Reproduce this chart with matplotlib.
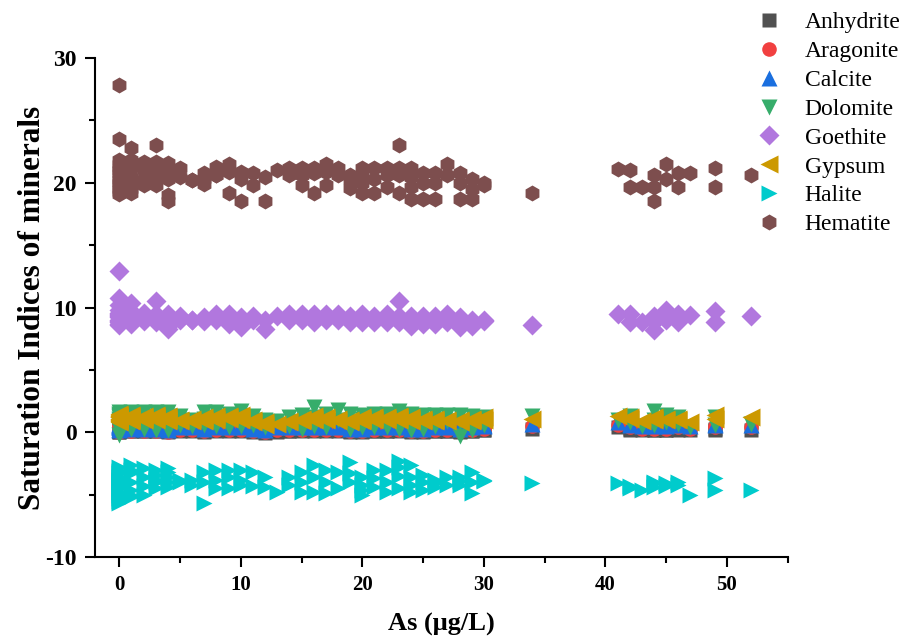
import matplotlib
matplotlib.use("Agg")
import matplotlib.pyplot as plt
from matplotlib.ticker import MultipleLocator

plt.rcParams["font.family"] = ["Liberation Serif", "DejaVu Serif"]
plt.rcParams["axes.unicode_minus"] = False

# As concentration of each sample (ug/L), one entry per sample
As = [0, 0, 0, 0, 0, 0, 0, 0, 0, 0, 0, 0, 0, 0,
      1, 1, 1, 1, 1, 1, 1,
      2, 2, 2, 2,
      3, 3, 3, 3, 3,
      4, 4, 4, 4, 4,
      5, 5, 6, 6, 7, 7, 7, 8, 8, 8, 9, 9, 9, 10, 10, 10,
      11, 11, 12, 12, 13, 14, 14, 15, 15, 15, 16, 16, 16, 17, 17, 17,
      18, 18, 19, 19, 19, 20, 20, 20, 20, 21, 21, 21, 22, 22, 22,
      23, 23, 23, 23, 24, 24, 24, 24, 25, 25, 25, 26, 26, 26,
      27, 27, 28, 28, 28, 29, 29, 29, 30, 30,
      34, 41, 42, 42, 43, 44, 44, 44, 45, 45, 46, 46, 47, 49, 49, 52]

hematite = [27.8, 23.5, 21.8, 21.5, 21.2, 21.0, 20.8, 20.5, 20.2, 20.0, 19.8, 19.5, 19.3, 19.1,
            22.8, 21.8, 21.2, 20.5, 20.0, 19.5, 19.2,
            21.7, 21.0, 20.3, 19.8,
            23.0, 21.7, 21.0, 20.3, 19.8,
            21.6, 21.0, 20.3, 19.0, 18.5,
            21.2, 20.5, 20.2, 20.2, 20.8, 20.3, 19.9, 21.3, 20.6, 20.6, 21.5, 20.9, 19.2, 20.9, 20.3, 18.5,
            20.8, 19.8, 20.5, 18.5, 21.0, 21.2, 20.6, 21.2, 20.6, 19.8, 21.2, 20.8, 19.2, 21.5, 20.9, 19.8,
            21.2, 20.6, 20.6, 20.2, 19.6, 21.2, 20.6, 20.0, 19.2, 21.2, 20.3, 19.2, 21.2, 20.6, 19.7,
            23.0, 21.2, 20.6, 19.2, 21.2, 20.5, 19.7, 18.7, 20.8, 20.0, 18.7, 20.8, 20.0, 18.7,
            21.5, 20.6, 20.8, 20.0, 18.7, 20.3, 19.5, 18.7, 20.0, 19.8,
            19.2, 21.1, 21.0, 19.7, 19.7, 20.6, 19.7, 18.5, 21.5, 20.3, 20.8, 19.7, 20.8, 21.2, 19.7, 20.6]

goethite = [12.9, 10.8, 10.2, 9.8, 9.6, 9.5, 9.3, 9.2, 9.0, 8.9, 8.8, 8.7, 8.6, 9.4,
            10.4, 9.7, 9.5, 9.2, 9.0, 8.8, 8.7,
            9.6, 9.5, 9.0, 8.9,
            10.5, 9.5, 9.3, 8.8, 9.0,
            9.5, 9.2, 8.8, 8.5, 8.3,
            9.3, 9.0, 9.0, 9.0, 9.2, 8.9, 9.0, 9.5, 9.0, 9.2, 9.5, 8.7, 9.1, 9.2, 8.4, 8.8,
            9.3, 9.0, 9.0, 8.3, 9.3, 9.5, 9.0, 9.5, 9.0, 9.2, 9.5, 8.8, 9.2, 9.5, 9.0, 9.2,
            9.5, 9.0, 9.3, 8.8, 9.0, 9.5, 8.8, 9.0, 9.2, 9.3, 8.8, 9.0, 9.5, 8.8, 9.2,
            10.5, 9.3, 8.8, 9.0, 9.3, 8.5, 8.9, 9.0, 9.3, 8.7, 9.0, 9.3, 8.7, 9.0,
            9.5, 8.8, 9.2, 8.4, 8.8, 9.0, 8.5, 8.7, 9.0, 8.9,
            8.6, 9.5, 9.5, 8.8, 8.8, 9.3, 8.2, 8.8, 9.8, 9.0, 9.5, 8.8, 9.4, 9.7, 8.8, 9.3]

halite = [-2.8, -3.1, -3.3, -3.6, -3.8, -4.0, -4.3, -4.5, -4.8, -5.0, -5.3, -5.5, -5.7, -4.1,
          -2.6, -3.0, -3.3, -4.0, -4.6, -5.0, -5.2,
          -2.9, -3.6, -4.3, -5.0,
          -3.0, -3.8, -4.5, -4.0, -3.4,
          -2.9, -3.6, -4.4, -4.0, -3.2,
          -4.0, -3.8, -3.8, -4.2, -3.2, -4.0, -5.7, -3.0, -3.8, -4.5, -3.0, -3.6, -4.5, -3.0, -3.8, -4.2,
          -3.2, -4.3, -3.6, -4.4, -4.8, -3.6, -4.2, -3.2, -4.8, -4.0, -2.6, -3.6, -4.8, -3.0, -4.0, -4.9,
          -3.2, -4.5, -2.4, -3.3, -4.0, -3.6, -5.0, -4.2, -4.6, -3.0, -4.4, -3.7, -3.0, -4.0, -4.8,
          -2.3, -3.5, -4.5, -2.8, -2.6, -3.6, -4.8, -4.2, -3.4, -4.6, -4.0, -3.8, -4.4, -4.1,
          -3.6, -4.2, -3.6, -4.2, -3.9, -3.2, -4.0, -4.9, -3.9, -3.8,
          -4.1, -4.1, -4.5, -4.3, -4.6, -4.1, -4.4, -4.0, -4.1, -4.3, -4.0, -4.2, -5.0, -3.7, -4.6, -4.6]

gypsum = [1.5, 1.3, 1.2, 1.0, 0.9, 1.4, 1.1, 0.8, 1.2, 1.3, 1.0, 1.1, 0.9, 1.2,
          1.4, 1.2, 1.0, 1.1, 0.9, 1.3, 1.2,
          1.3, 1.1, 1.0, 1.2,
          1.4, 1.2, 1.0, 1.1, 1.3,
          1.3, 1.1, 1.0, 0.9, 1.2,
          1.0, 0.9, 1.1, 0.9, 1.2, 1.0, 0.9, 1.3, 1.1, 1.0, 1.3, 1.1, 1.2, 1.4, 1.2, 1.0,
          1.0, 0.8, 0.8, 0.6, 0.7, 0.9, 0.8, 1.1, 0.9, 1.0, 1.3, 1.1, 1.0, 1.2, 1.0, 1.1,
          1.1, 0.9, 0.9, 0.8, 1.0, 1.2, 1.0, 1.1, 0.9, 1.1, 1.0, 1.2, 1.2, 1.0, 1.1,
          1.3, 1.1, 1.0, 1.2, 1.1, 0.9, 1.0, 1.2, 1.0, 0.9, 1.1, 1.1, 0.9, 1.0,
          0.9, 1.0, 1.0, 0.8, 0.9, 1.1, 0.9, 1.0, 1.2, 1.0,
          1.1, 1.3, 1.1, 1.2, 0.9, 1.0, 1.1, 1.2, 1.1, 1.0, 1.0, 1.1, 0.8, 1.4, 1.1, 1.2]

dolomite = [1.6, 1.4, 1.2, 1.0, 0.8, 0.5, 0.2, -0.2, 1.5, 0.9, 0.6, 1.3, 0.3, 1.1,
            1.6, 1.3, 1.0, 0.6, 0.3, 1.4, 0.8,
            1.6, 1.2, 0.7, 0.3,
            1.6, 1.3, 0.9, 0.5, 0.2,
            1.6, 1.2, 0.8, 0.4, 0.2,
            1.3, 0.6, 1.0, 0.5, 1.6, 1.1, 0.6, 1.6, 1.2, 0.5, 1.5, 1.0, 0.4, 1.7, 1.2, 0.5,
            1.3, 0.6, 1.0, 0.4, 0.9, 1.2, 0.5, 1.4, 0.8, 0.3, 2.0, 1.2, 0.5, 1.5, 0.9, 0.4,
            1.8, 1.0, 1.5, 0.8, 0.3, 1.4, 0.9, 0.4, 1.1, 1.5, 0.8, 0.4, 1.5, 1.0, 0.4,
            1.7, 1.0, 0.3, 1.3, 1.5, 0.9, 0.2, 1.2, 1.4, 0.8, 0.3, 1.4, 0.9, 0.5,
            1.4, 0.9, 1.4, 0.8, -0.3, 1.3, 0.7, 0.2, 1.2, 0.6,
            1.3, 1.0, 1.3, 0.8, 0.5, 1.7, 1.0, 0.6, 1.4, 0.8, 1.2, 0.7, 0.4, 1.2, 0.6, 0.7]

calcite = [0.7, 0.6, 0.5, 0.4, 0.3, 0.6, 0.5, 0.2, 0.4, 0.7, 0.5, 0.3, 0.6, 0.4,
           0.6, 0.5, 0.4, 0.3, 0.7, 0.5, 0.4,
           0.6, 0.4, 0.5, 0.3,
           0.7, 0.5, 0.4, 0.3, 0.6,
           0.6, 0.4, 0.3, 0.5, 0.2,
           0.6, 0.4, 0.5, 0.4, 0.6, 0.5, 0.3, 0.7, 0.5, 0.4, 0.6, 0.4, 0.5, 0.7, 0.5, 0.4,
           0.5, 0.3, 0.4, 0.2, 0.4, 0.5, 0.4, 0.6, 0.4, 0.5, 0.7, 0.5, 0.4, 0.6, 0.4, 0.5,
           0.6, 0.4, 0.5, 0.3, 0.4, 0.6, 0.4, 0.5, 0.3, 0.6, 0.5, 0.4, 0.6, 0.5, 0.4,
           0.7, 0.5, 0.4, 0.6, 0.6, 0.4, 0.5, 0.3, 0.5, 0.4, 0.3, 0.6, 0.4, 0.5,
           0.5, 0.4, 0.5, 0.3, 0.4, 0.6, 0.4, 0.5, 0.6, 0.5,
           0.7, 0.8, 0.6, 0.7, 0.5, 0.6, 0.7, 0.5, 0.6, 0.5, 0.6, 0.7, 0.5, 0.7, 0.6, 0.6]

aragonite = [0.5, 0.4, 0.3, 0.2, 0.1, 0.4, 0.3, 0.0, 0.2, 0.5, 0.3, 0.1, 0.4, 0.2,
             0.4, 0.3, 0.2, 0.1, 0.5, 0.3, 0.2,
             0.4, 0.2, 0.3, 0.1,
             0.5, 0.3, 0.2, 0.1, 0.4,
             0.4, 0.2, 0.1, 0.3, 0.0,
             0.4, 0.2, 0.3, 0.2, 0.4, 0.3, 0.1, 0.5, 0.3, 0.2, 0.4, 0.2, 0.3, 0.5, 0.3, 0.2,
             0.3, 0.1, 0.2, 0.0, 0.2, 0.3, 0.2, 0.4, 0.2, 0.3, 0.5, 0.3, 0.2, 0.4, 0.2, 0.3,
             0.4, 0.2, 0.3, 0.1, 0.2, 0.4, 0.2, 0.3, 0.1, 0.4, 0.3, 0.2, 0.4, 0.3, 0.2,
             0.5, 0.3, 0.2, 0.4, 0.4, 0.2, 0.3, 0.1, 0.3, 0.2, 0.1, 0.4, 0.2, 0.3,
             0.3, 0.2, 0.3, 0.1, 0.2, 0.4, 0.2, 0.3, 0.4, 0.3,
             0.5, 0.6, 0.4, 0.5, 0.3, 0.4, 0.5, 0.3, 0.4, 0.3, 0.4, 0.5, 0.3, 0.5, 0.4, 0.4]

anhydrite = [0.3, 0.2, 0.2, 0.1, 0.0, 0.3, 0.2, 0.0, 0.1, 0.3, 0.2, 0.1, 0.2, 0.1,
             0.3, 0.2, 0.1, 0.1, 0.3, 0.2, 0.2,
             0.3, 0.1, 0.2, 0.1,
             0.3, 0.2, 0.1, 0.1, 0.2,
             0.2, 0.1, 0.1, 0.2, 0.0,
             0.2, 0.1, 0.2, 0.1, 0.2, 0.1, 0.0, 0.3, 0.2, 0.1, 0.2, 0.1, 0.2, 0.3, 0.2, 0.1,
             0.2, 0.0, 0.1, -0.1, 0.0, 0.1, 0.1, 0.2, 0.1, 0.2, 0.3, 0.2, 0.1, 0.2, 0.1, 0.2,
             0.2, 0.1, 0.1, 0.0, 0.1, 0.2, 0.1, 0.2, 0.0, 0.2, 0.1, 0.1, 0.2, 0.1, 0.1,
             0.3, 0.2, 0.1, 0.2, 0.2, 0.1, 0.1, 0.0, 0.1, 0.1, 0.0, 0.2, 0.1, 0.1,
             0.1, 0.1, 0.1, 0.0, 0.1, 0.2, 0.1, 0.1, 0.2, 0.2,
             0.3, 0.4, 0.2, 0.3, 0.2, 0.2, 0.3, 0.2, 0.2, 0.2, 0.2, 0.3, 0.2, 0.3, 0.2, 0.2]

# (label, values, marker, markersize, colour) in drawing / legend order
series = [
    ("Anhydrite", anhydrite, "s", 9.5, "#515151"),
    ("Aragonite", aragonite, "o", 10.5, "#F14040"),
    ("Calcite", calcite, "^", 11.5, "#1A6FDF"),
    ("Dolomite", dolomite, "v", 11.5, "#37AD6B"),
    ("Goethite", goethite, "D", 10.0, "#B177DE"),
    ("Gypsum", gypsum, "<", 12.5, "#CC9900"),
    ("Halite", halite, ">", 12.0, "#00CBCC"),
    ("Hematite", hematite, "h", 11.5, "#7D4E4E"),
]

fig = plt.figure(figsize=(9.15, 6.38), dpi=100)
ax = fig.add_axes([0.1038, 0.127, 0.757, 0.782])

for label, vals, marker, ms, color in series:
    ax.plot(As, vals, linestyle="none", marker=marker, markersize=ms,
            markerfacecolor=color, markeredgecolor="none", label=label)

ax.set_xlim(-2, 55)
ax.set_ylim(-10, 30)
ax.xaxis.set_major_locator(MultipleLocator(10))
ax.xaxis.set_minor_locator(MultipleLocator(5))
ax.yaxis.set_major_locator(MultipleLocator(10))
ax.yaxis.set_minor_locator(MultipleLocator(5))

for side in ("top", "right"):
    ax.spines[side].set_visible(False)
for side in ("left", "bottom"):
    ax.spines[side].set_linewidth(1.5)

ax.tick_params(which="major", direction="out", length=7, width=1.5, pad=6)
ax.tick_params(which="minor", direction="out", length=4, width=1.5)
ax.tick_params(axis="x", labelsize=15)
ax.tick_params(axis="y", labelsize=17)
for t in ax.get_xticklabels() + ax.get_yticklabels():
    t.set_fontweight("bold")

ax.set_xlabel("As (μg/L)", fontsize=19, fontweight="bold", labelpad=13)
ax.set_ylabel("Saturation Indices of minerals", fontsize=22.5, fontweight="bold", labelpad=-1)

ax.legend(loc="upper left", bbox_to_anchor=(0.815, 1.0), bbox_transform=fig.transFigure,
          frameon=False, fontsize=17, handlelength=1.0, handletextpad=1.0,
          labelspacing=0.31, borderaxespad=0.1)

fig.savefig("out.png", dpi=100)
